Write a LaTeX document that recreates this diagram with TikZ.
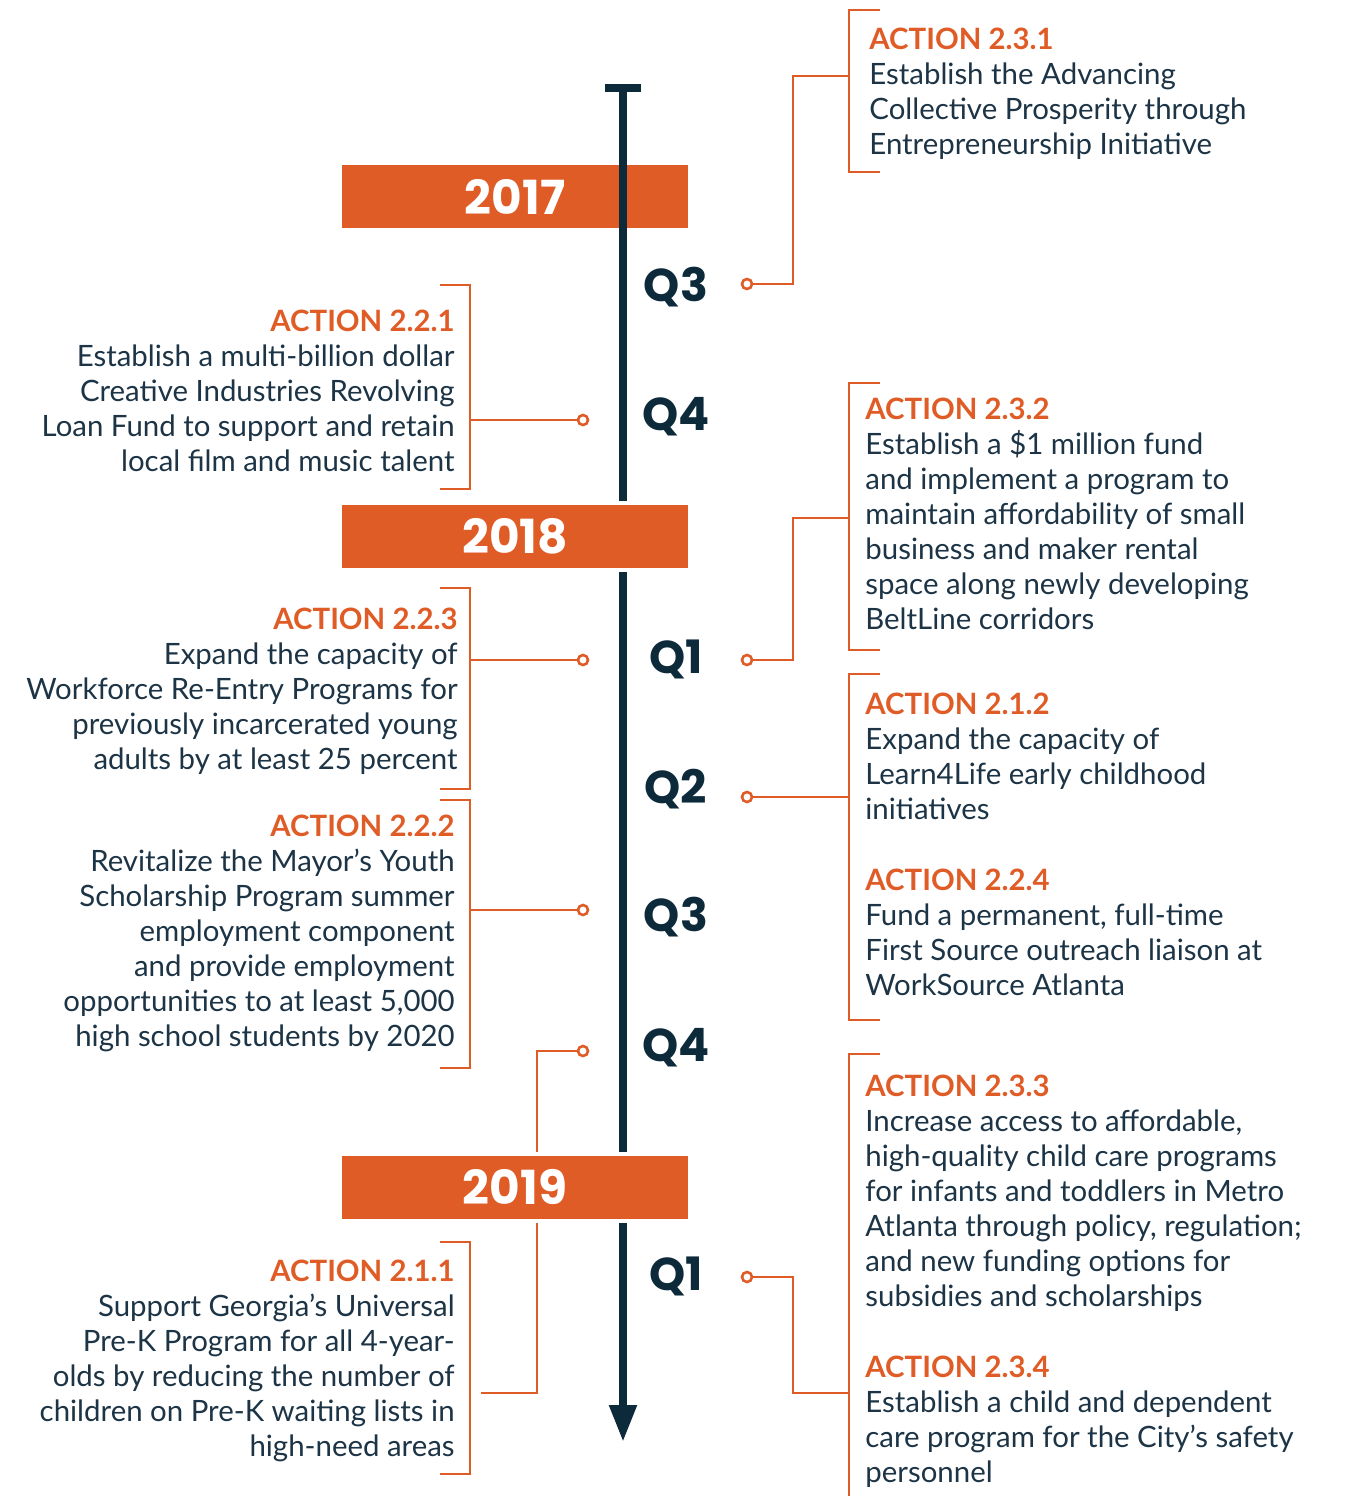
\documentclass[tikz,border=0pt]{standalone}
\usepackage{fontspec}
\setmainfont{Lato}
\newfontfamily\headfont{Poppins}
\usetikzlibrary{positioning,calc,arrows.meta}
\definecolor{actorange}{HTML}{E05C27}
\definecolor{navy}{HTML}{0D2A3B}
\definecolor{bodytext}{HTML}{1C3445}
\tikzset{
	yearbox/.style={fill=actorange,minimum width=173pt,minimum height=31.5pt,inner sep=0pt,text=white,font=\headfont\bfseries\fontsize{23.5}{24}\selectfont},
	halo/.style={preaction={draw=white,line width=4pt}},
	quarter/.style={text=navy,font=\headfont\bfseries\fontsize{23}{23}\selectfont,inner sep=0pt},
	action/.style={text=bodytext,font=\fontsize{14.7}{17.5}\selectfont,inner sep=0pt},
	knob/.style={circle,draw=actorange,fill=white,line width=1.3pt,minimum size=5pt,inner sep=0pt},
	conn/.style={draw=actorange,line width=1.3pt},
}
\newcommand{\acttitle}[1]{\textcolor{actorange}{\bfseries ACTION #1}}
\begin{document}
\begin{tikzpicture}[x=0.5pt,y=-0.5pt]
		\useasboundingbox (0,0) rectangle (1346,1496);
		\coordinate(axtop) at (623,88);
		\coordinate(axend) at (623,1442);
		
		% brackets
		\draw[conn] (880,10) -| (849,172) -- (880,172);
		\draw[conn] (440,285) -| (470,489) -- (440,489);
		\draw[conn] (880,383) -| (849,650) -- (880,650);
		\draw[conn] (440,588) -| (470,789) -- (440,789);
		\draw[conn] (880,674) -| (849,1020) -- (880,1020);
		\draw[conn] (440,800) -| (470,1068) -- (440,1068);
		\draw[conn] (440,1242) -| (470,1474) -- (440,1474);
		\draw[conn] (880,1054) -| (849,1500);
		\coordinate(b231) at (849,76);
		\coordinate(b221) at (470,420);
		\coordinate(b232) at (849,518);
		\coordinate(b223) at (470,660);
		\coordinate(b212) at (849,797);
		\coordinate(b222) at (470,910);
		\coordinate(b211) at (481,1393);
		\coordinate(b234) at (849,1393);
		
		% knobs
		\node[knob] (k1) at (747,284) {};
		\node[knob] (k2) at (583,420) {};
		\node[knob] (k3) at (747,660) {};
		\node[knob] (k4) at (583,660) {};
		\node[knob] (k5) at (747,797) {};
		\node[knob] (k6) at (583,910) {};
		\node[knob] (k7) at (583,1051) {};
		\node[knob] (k8) at (747,1277) {};
		\draw[conn] (k1) -- ++(46,0) |- (b231);
		\draw[conn] (k2) -- (b221);
		\draw[conn] (k3) -- ++(46,0) |- (b232);
		\draw[conn] (k4) -- (b223);
		\draw[conn] (k5) -- (b212);
		\draw[conn] (k6) -- (b222);
		\draw[conn] (k7) -- ++(-46,0) |- (b211);
		\draw[conn] (k8) -- ++(46,0) |- (b234);
		
		% axis
		\node[yearbox] (y17) at (515,196.5) {2017};
		\draw[navy,line width=4pt] (605,88) -- (641,88);
		\draw[navy,line width=4pt,-{Triangle[width=13pt,length=18.5pt]}] (axtop) -- (axend);
		\node[yearbox,halo] (y18) at (515,536.5) {2018};
		\node[yearbox,halo] (y19) at (515,1187) {2019};
		
		\node[quarter] (q1) at (676,287) {Q3};
		\node[quarter] (q2) at (676,417) {Q4};
		\node[quarter] (q3) at (676,659) {Q1};
		\node[quarter] (q4) at (676,789) {Q2};
		\node[quarter] (q5) at (676,917) {Q3};
		\node[quarter] (q6) at (676,1048) {Q4};
		\node[quarter] (q7) at (676,1276) {Q1};
		
		% actions
		\node[action,anchor=north west,align=left] (a231) at (869,28) {\acttitle{2.3.1}\\Establish the Advancing\\Collective Prosperity through\\Entrepreneurship Initiative};
		\node[action,anchor=north east,align=right] (a221) at (455,310) {\acttitle{2.2.1}\\Establish a multi-billion dollar\\Creative Industries Revolving\\Loan Fund to support and retain\\local film and music talent};
		\node[action,anchor=north west,align=left] (a232) at (865,398) {\acttitle{2.3.2}\\Establish a \$1 million fund\\and implement a program to\\maintain affordability of small\\business and maker rental\\space along newly developing\\BeltLine corridors};
		\node[action,anchor=north east,align=right] (a223) at (458,608) {\acttitle{2.2.3}\\Expand the capacity of\\Workforce Re-Entry Programs for\\previously incarcerated young\\adults by at least 25 percent};
		\node[action,anchor=north west,align=left] (a212) at (865,693) {\acttitle{2.1.2}\\Expand the capacity of\\Learn4Life early childhood\\initiatives};
		\node[action,anchor=north west,align=left] (a224) at (865,869) {\acttitle{2.2.4}\\Fund a permanent, full-time\\First Source outreach liaison at\\WorkSource Atlanta};
		\node[action,anchor=north east,align=right] (a222) at (455,815) {\acttitle{2.2.2}\\Revitalize the Mayor’s Youth\\Scholarship Program summer\\employment component\\and provide employment\\opportunities to at least 5,000\\high school students by 2020};
		\node[action,anchor=north west,align=left] (a233) at (865,1075) {\acttitle{2.3.3}\\Increase access to affordable,\\high-quality child care programs\\for infants and toddlers in Metro\\Atlanta through policy, regulation;\\and new funding options for\\subsidies and scholarships};
		\node[action,anchor=north west,align=left] (a234) at (865,1356) {\acttitle{2.3.4}\\Establish a child and dependent\\care program for the City’s safety\\personnel};
		\node[action,anchor=north east,align=right] (a211) at (455,1260) {\acttitle{2.1.1}\\Support Georgia’s Universal\\Pre-K Program for all 4-year-\\olds by reducing the number of\\children on Pre-K waiting lists in\\high-need areas};
	\end{tikzpicture}
\end{document}
